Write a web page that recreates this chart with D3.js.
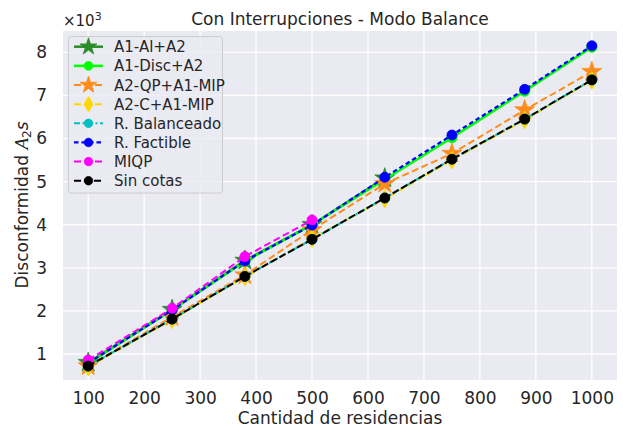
<!DOCTYPE html>
<html><head><meta charset="utf-8">
<script src="https://cdn.jsdelivr.net/npm/d3@7"></script>
<style>body{margin:0;background:#fff}svg{display:block;font-family:"DejaVu Sans",sans-serif}</style>
</head><body><svg id="c" width="623" height="429"></svg>
<script>
const xVals = [100, 250, 380, 500, 630, 750, 880, 1000];
const seriesNames = ["A1-Al+A2","A1-Disc+A2","A2-QP+A1-MIP","A2-C+A1-MIP","R. Balanceado","R. Factible","MIQP","Sin cotas"];
const vAlA2   = [0.80, 2.03, 3.17, 4.00, 5.08];
const vDiscA2 = [0.78, 2.02, 3.15, 4.00, 5.05, 6.02, 7.10, 8.12];
const vQPMIP  = [0.72, 1.86, 2.83, 3.88, 4.95, 5.65, 6.66, 7.55];
const vCMIP   = [0.70, 1.80, 2.79, 3.68, 4.60, 5.50, 6.43, 7.35];
const vBal    = [0.72, 1.81, 2.80, 3.66, 4.62, 5.52, 6.45, 7.36];
const vFact   = [0.79, 2.02, 3.16, 3.99, 5.10, 6.08, 7.14, 8.15];
const vMIQP   = [0.86, 2.06, 3.26, 4.11];
const vSin    = [0.72, 1.81, 2.80, 3.66, 4.62, 5.52, 6.45, 7.36];
const xTicks = [100,200,300,400,500,600,700,800,900,1000];
const yTicks = [1,2,3,4,5,6,7,8];

const styles = [
  {vals:vAlA2, color:"#2a8c2a", dash:null, lw:2.5, marker:"star", ms:10.5},
  {vals:vDiscA2, color:"#00ff00", dash:null, lw:2.5, marker:"circle", ms:5.2},
  {vals:vQPMIP, color:"#ff8c1a", dash:"7,3.5", lw:2, marker:"star", ms:10.5},
  {vals:vCMIP, color:"#ffd700", dash:"7,3.5", lw:2, marker:"diamond", ms:9},
  {vals:vBal, color:"#00c0c0", dash:"6,2.5,2,2.5", lw:2, marker:"circle", ms:5},
  {vals:vFact, color:"#0000ff", dash:"4.5,3", lw:2.2, marker:"circle", ms:5},
  {vals:vMIQP, color:"#ff00ff", dash:"7,3.5", lw:2, marker:"circle", ms:5},
  {vals:vSin, color:"#000000", dash:"7,3", lw:2, marker:"circle", ms:5}
];

const svg = d3.select("#c");
const L=63, R=617, T=31, B=380;
const x = d3.scaleLinear().domain([55,1045]).range([L,R]);
const y = d3.scaleLinear().domain([0.397,8.494]).range([B,T]);

svg.append("rect").attr("x",L).attr("y",T).attr("width",R-L).attr("height",B-T).attr("fill","#eaeaf2");
const g = svg.append("g");
g.selectAll(".vg").data(xTicks).join("line").attr("x1",d=>x(d)).attr("x2",d=>x(d)).attr("y1",T).attr("y2",B).attr("stroke","#fff").attr("stroke-width",1.3);
g.selectAll(".hg").data(yTicks).join("line").attr("y1",d=>y(d)).attr("y2",d=>y(d)).attr("x1",L).attr("x2",R).attr("stroke","#fff").attr("stroke-width",1.3);

const xAxis = d3.axisBottom(x).tickValues(xTicks).tickFormat(d3.format("d")).tickSize(0).tickPadding(12);
const ax = svg.append("g").attr("transform",`translate(0,${B})`).call(xAxis);
ax.select(".domain").remove();
ax.selectAll("text").attr("font-size",17).attr("fill","#262626").attr("font-family","DejaVu Sans");
const yAxis = d3.axisLeft(y).tickValues(yTicks).tickFormat(d3.format("d")).tickSize(0).tickPadding(16);
const ay = svg.append("g").attr("transform",`translate(${L},0)`).call(yAxis);
ay.select(".domain").remove();
ay.selectAll("text").attr("font-size",17).attr("fill","#262626").attr("font-family","DejaVu Sans");

function markerPath(type, s){
  if(type==="star") return d3.symbol(d3.symbolStar, s*s/0.8908130915292852)();
  if(type==="diamond") { const w=s*0.6; return `M0,${-s}L${w},0L0,${s}L${-w},0Z`; }
  return d3.symbol(d3.symbolCircle, Math.PI*s*s)();
}

const plot = svg.append("g");
styles.forEach((st,i)=>{
  const pts = st.vals.map((v,j)=>[xVals[j],v]);
  const line = d3.line().x(d=>x(d[0])).y(d=>y(d[1]));
  plot.append("path").attr("d",line(pts)).attr("fill","none").attr("stroke",st.color)
    .attr("stroke-width",st.lw).attr("stroke-dasharray",st.dash);
  plot.selectAll(null).data(pts).join("path").attr("d",markerPath(st.marker,st.ms))
    .attr("transform",d=>`translate(${x(d[0])},${y(d[1])})`).attr("fill",st.color).attr("stroke",st.color).attr("stroke-width",0.8);
});

const lg = svg.append("g");
lg.append("rect").attr("x",68.5).attr("y",36.5).attr("width",154).attr("height",156.5).attr("rx",3)
  .attr("fill","#eaeaf2").attr("fill-opacity",0.8).attr("stroke","#cccccc").attr("stroke-width",1);
styles.forEach((st,i)=>{
  const yy = 46.7 + i*19.15;
  lg.append("line").attr("x1",74).attr("x2",103).attr("y1",yy).attr("y2",yy).attr("stroke",st.color)
    .attr("stroke-width",st.lw).attr("stroke-dasharray",st.dash);
  lg.append("path").attr("d",markerPath(st.marker,st.ms*0.85)).attr("transform",`translate(88.5,${yy})`).attr("fill",st.color).attr("stroke",st.color).attr("stroke-width",0.8);
  lg.append("text").attr("x",114).attr("y",yy+5.5).attr("font-size",15).attr("fill","#262626").text(seriesNames[i]);
});

svg.append("text").attr("x",340).attr("y",25).attr("text-anchor","middle").attr("font-size",17).attr("fill","#262626").text("Con Interrupciones - Modo Balance");
svg.append("text").attr("x",340).attr("y",424).attr("text-anchor","middle").attr("font-size",17).attr("fill","#262626").text("Cantidad de residencias");
const yl = svg.append("text").attr("transform","translate(28,205) rotate(-90)").attr("text-anchor","middle").attr("font-size",17).attr("fill","#262626");
yl.append("tspan").text("Disconformidad ");
yl.append("tspan").attr("font-family","Liberation Serif").attr("font-style","italic").attr("font-size",19).text("A");
yl.append("tspan").attr("font-size",12).attr("dy",3).text("2");
yl.append("tspan").attr("dy",-3).attr("font-style","italic").text("s");
const sc = svg.append("text").attr("x",63).attr("y",26).attr("font-size",15).attr("fill","#262626");
sc.append("tspan").text("×10");
sc.append("tspan").attr("font-size",11).attr("dy",-6).text("3");
</script></body></html>
